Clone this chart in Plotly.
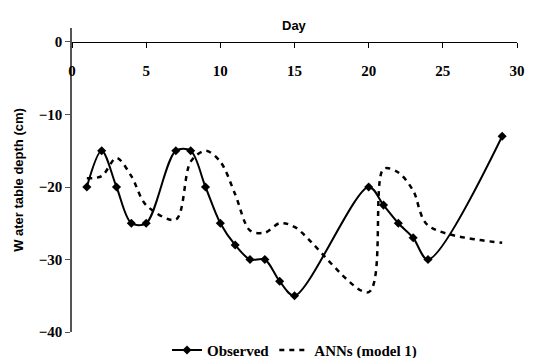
import plotly.graph_objects as go

days = [1, 2, 3, 4, 5, 7, 8, 9, 10, 11, 12, 13, 14, 15, 20, 21, 22, 23, 24, 29]
observed = [-20, -15, -20, -25, -25, -15, -15, -20, -25, -28, -30, -30, -33, -35,
            -20, -22.5, -25, -27, -30, -13]
ann_model1 = [-18.8, -18.5, -16, -18.5, -22.5, -24.5, -16.5, -15, -16.5, -21, -26, -26.3,
              -25, -25.5, -34.5, -17.5, -18, -20.5, -25.3, -27.7]

x_ticks = [0, 5, 10, 15, 20, 25, 30]
y_ticks = [0, -10, -20, -30, -40]

tick_font = dict(family="Liberation Serif", size=15, color="black", weight="bold")

fig = go.Figure()
fig.add_trace(go.Scatter(
    x=days, y=observed, name="Observed", mode="lines+markers",
    line=dict(color="black", width=2, shape="spline", smoothing=0.9),
    marker=dict(symbol="diamond", size=7, color="black"),
))
fig.add_trace(go.Scatter(
    x=days, y=ann_model1, name="ANNs (model 1)", mode="lines",
    line=dict(color="black", width=2.5, dash="5px,5px", shape="spline", smoothing=0.9),
))

fig.update_layout(
    width=549, height=358,
    margin=dict(l=72, r=32, t=28, b=26, autoexpand=False),
    paper_bgcolor="white", plot_bgcolor="white",
    showlegend=True,
    legend=dict(orientation="h", x=0.5, xanchor="center", y=-0.006, yanchor="top",
                font=dict(family="Liberation Serif", size=15, color="black", weight="bold"),
                traceorder="normal", itemwidth=30, tracegroupgap=0),
    xaxis=dict(range=[0, 30], tickvals=x_ticks, ticks="outside", ticklen=5,
               tickcolor="black", showline=True, linecolor="black", linewidth=1,
               showgrid=False, zeroline=False, anchor="free", position=40 / 41.93,
               tickfont=tick_font, ticklabelstandoff=10),
    yaxis=dict(range=[-40, 1.93], tickvals=y_ticks, ticks="outside", ticklen=5,
               tickcolor="#555", showline=True, linecolor="#555", linewidth=1.5,
               showgrid=False, zeroline=False, tickfont=tick_font,
               title=dict(text="W ater table depth (cm)", standoff=12,
                          font=dict(family="Liberation Sans", size=13, color="black",
                                    weight="bold"))),
)
fig.add_annotation(text="Day", x=15, xref="x", y=0, yref="y",
                   yanchor="bottom", showarrow=False, yshift=7,
                   font=dict(family="Liberation Sans", size=13, color="black", weight="bold"))

fig.write_html("out.html")
